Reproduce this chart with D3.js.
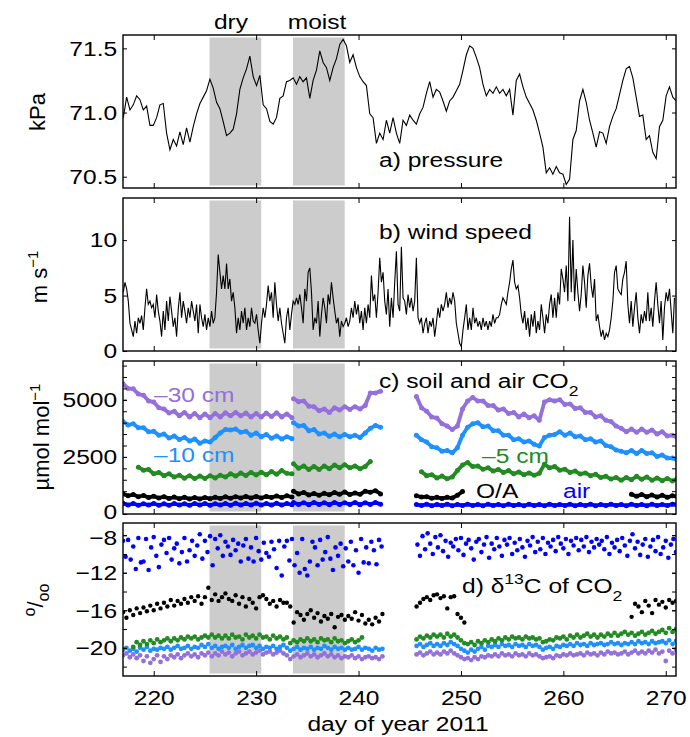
<!DOCTYPE html>
<html><head><meta charset="utf-8">
<script src="https://cdn.jsdelivr.net/npm/d3@7"></script>
<style>
body{margin:0;background:#fff}
text{font-family:"Liberation Sans",Arial,Helvetica,sans-serif}
</style>
</head><body>
<svg id="chart" width="690" height="737"></svg>
<script>
// ---------------- DATA ----------------
const dayDomain = [217, 271];
const dayTicks = [220, 230, 240, 250, 260, 270];
const dryPeriod = [225.45, 230.5];
const moistPeriod = [233.6, 238.65];

// a) pressure (kPa), regular sampling
const pressureStart = 217.03, pressureStep = 0.3252;
const pressure = [70.96,71.12,71.02,71.06,71.13,71.10,71.02,71.05,70.90,70.90,70.96,71.06,71.07,70.84,70.71,70.79,70.74,70.85,70.75,70.88,
70.77,70.89,70.99,71.07,71.12,71.17,71.26,71.19,71.08,71.03,70.93,70.82,70.84,70.87,70.99,71.18,71.27,71.34,71.44,71.28,
71.21,71.29,71.06,71.03,70.93,70.91,70.96,71.11,71.13,71.24,71.25,71.27,71.22,71.28,71.24,71.27,71.11,71.25,71.33,71.48,
71.39,71.35,71.25,71.35,71.42,71.53,71.57,71.52,71.39,
71.45,71.35,71.28,71.24,71.21,70.99,70.96,70.76,70.84,70.79,70.94,70.84,70.96,70.84,70.76,70.94,70.90,70.98,70.94,70.91,
70.99,71.04,71.15,71.24,71.12,71.18,71.16,71.09,71.01,71.09,71.12,71.17,71.22,71.33,71.45,71.52,71.50,71.43,71.35,71.22,
71.13,71.18,71.15,71.20,71.15,71.18,71.13,71.18,70.98,71.25,71.30,71.20,71.12,71.07,71.02,70.94,70.84,70.73,70.53,70.57,
70.52,70.58,70.53,70.52,70.44,70.48,70.79,70.86,71.09,71.18,71.08,70.94,70.84,70.73,70.85,70.84,70.76,70.89,70.97,71.03,
71.14,71.25,71.34,71.36,71.27,71.12,70.97,70.98,70.79,70.82,70.69,70.64,70.89,70.94,71.13,71.20,71.12,71.09];
const pressureTicks = [70.5, 71.0, 71.5];

// b) wind speed (m/s)
const windStart = 217.03, windStep = 0.1626;
const wind = [5.3,6.2,5.6,4.5,2.5,1.9,1.3,2.7,1.6,3.0, 2.5,3.2,1.9,3.9,5.6,4.2,4.5,3.9,4.2,3.0,
5.1,3.6,2.7,1.3,3.6,1.9,4.5,2.7,4.9,3.6, 2.2,3.0,1.3,3.8,5.3,3.0,4.5,3.6,2.5,3.9,
3.0,4.5,3.6,2.7,4.2,1.6,4.2,3.0,2.2,3.3, 1.9,3.0,2.2,3.6,2.5,3.0,5.3,8.7,7.1,5.6,
6.8,5.6,7.9,5.6,6.5,4.5,5.3,3.9,1.6,3.0, 1.9,3.6,2.5,3.9,1.9,3.0,2.2,3.9,2.7,2.5,
3.3,1.9,0.7,2.5,3.9,3.0,4.2,5.9,4.5,5.3, 3.0,6.2,4.2,2.7,3.9,2.5,1.6,0.7,3.0,3.9,
1.9,3.3,4.5,4.2,4.8,4.2,5.1,3.9,2.5,5.6, 4.5,7.1,7.5,5.3,1.9,3.0,2.5,4.5,1.3,3.3,
4.8,3.9,2.5,5.1,4.2,6.2,4.8,3.6,2.5,3.0, 1.3,2.7,2.2,2.5,3.0,2.2,2.7,
3.9,3.0,4.5,3.3,4.2,2.5,3.6,1.9,3.9,2.5, 4.2,3.0,6.8,4.5,5.1,3.0,5.3,8.4,6.2,7.1,
4.5,3.3,5.6,2.2,4.8,3.0,6.2,9.0,4.2,3.6, 9.4,4.8,4.5,3.3,5.1,3.9,4.8,3.6,4.5,8.4,
3.0,2.5,3.0,1.6,2.5,3.0,1.6,2.7,2.2,3.0, 1.3,2.5,3.9,3.0,4.2,3.6,4.2,5.3,3.9,4.8,
4.2,5.3,4.5,2.5,1.6,0.7,0.4,1.9,3.0,4.2, 1.9,3.0,1.9,3.9,2.5,3.0,2.2,2.7,1.9,3.0,
2.2,2.7,1.9,2.7,2.2,3.3,2.5,3.0,3.0,3.3, 4.2,4.8,4.5,4.2,5.3,6.2,7.4,8.2,6.2,5.6,
5.9,4.8,3.3,2.5,3.6,1.9,3.0,1.3,3.3,2.2, 3.6,1.6,2.7,1.9,4.2,3.0,1.6,3.3,2.5,4.2,
5.1,3.0,4.8,3.0,5.3,4.2,7.4,6.5,5.3,7.7, 4.5,12.1,5.3,10.0,4.5,7.4,5.3,3.6,5.1,7.7,
6.2,3.9,6.8,7.9,5.9,4.8,6.5,2.7,3.3,2.2, 1.3,1.9,1.0,1.6,1.3,1.9,3.0,4.5,7.1,7.7,
5.6,5.3,5.1,6.5,7.1,8.1,4.2,2.5,4.5,2.2, 3.9,5.3,3.0,1.6,3.3,2.5,3.6,2.7,5.3,2.7,
3.9,2.2,4.5,6.2,4.2,2.5,4.5,1.0,3.9,5.3, 4.5,5.6,3.6,1.6,4.8];
const windTicks = [0, 5, 10];

// c) soil and air CO2 (umol/mol), three record segments, half-day sampling
const co2SegStart = [217.0, 233.65, 245.65];
const co2Step = 0.5;
const co2Minus30 = [
 [5700,5500,5480,5250,5200,4950,4900,4650,4600,4420,4500,4300,4450,4250,4400,4220,4380,4220,4400,4250,4430,4300,4450,4300,4420,4250,4400,4250,4420,4270,4430,4250,4380,4220],
 [5050,4920,4950,4720,4700,4520,4600,4450,4650,4550,4700,4580,4700,4600,4750,5300,5300,5380],
 [5150,4650,4500,4250,4200,3950,3850,3700,3850,4600,4950,5100,4950,4950,4750,4750,4550,4600,4400,4450,4250,4380,4220,4300,4100,4900,5000,4950,5000,4800,4820,4620,4650,4450,4450,4250,4300,4100,4050,3850,3750,3600,3720,3580,3720,3580,3680,3500,3600,3420,3450,3330]];
const co2Minus10 = [
 [4050,3900,3950,3780,3780,3600,3620,3450,3500,3330,3420,3260,3350,3200,3280,3100,3200,3150,3350,3550,3700,3680,3720,3580,3620,3450,3550,3380,3480,3320,3420,3280,3380,3300],
 [4000,3850,3880,3650,3700,3500,3550,3400,3500,3380,3480,3380,3450,3350,3550,3750,3880,3800],
 [3450,3250,3150,2950,2900,2750,2780,2680,2900,3450,3800,3950,4000,3820,3850,3650,3650,3450,3450,3250,3300,3150,3200,3050,2980,3350,3450,3480,3600,3450,3550,3380,3420,3250,3300,3150,3200,3000,2950,2800,2750,2680,2780,2650,2780,2650,2680,2520,2580,2450,2450,2350]];
const co2Minus5 = [
 [null,null,null,2050,1920,1950,1760,1820,1680,1760,1620,1700,1570,1680,1550,1660,1560,1680,1580,1700,1620,1760,1660,1790,1690,1820,1710,1830,1720,1860,1740,1900,1780,1760],
 [2200,2000,2100,1950,2080,1950,2100,1980,2150,2020,2160,2020,2100,1980,2080,2300,null,null],
 [null,1850,1680,1720,1580,1660,1540,1620,1900,2150,2250,2080,2100,1960,2020,1880,1950,1820,1900,1760,1840,1720,1800,1700,1780,2180,2020,2080,1920,1960,1820,1880,1750,1800,1680,1740,1600,1650,1530,1600,1480,1600,1500,1650,1520,1620,1480,1580,1460,1560,1450,1560]];
const co2OA = [
 [880,800,850,760,810,720,780,700,760,680,740,670,730,660,720,660,720,670,730,680,750,690,760,700,770,700,770,700,770,720,790,720,800,740],
 [1000,880,940,830,900,820,910,840,940,860,960,850,920,860,1000,950,1020,880],
 [800,740,760,690,730,680,730,700,820,980,
  null,null,null,null,null,null,null,null,null,null,null,null,null,null,null,null,
  null,null,null,null,null,null,null,null,null,null,null,null,null,null,null,null,
  860,780,850,760,830,740,820,730,800,750]];
const co2Air = [
 [470,390,460,380,450,390,460,380,450,380,460,390,450,380,460,390,460,380,450,390,460,380,470,390,460,390,470,390,460,390,470,390,460,400],
 [500,420,490,410,500,420,490,410,500,420,490,420,500,410,490,420,500,430],
 [420,370,430,360,420,370,430,360,420,370,430,370,420,360,430,370,420,360,430,370,420,360,430,370,420,360,430,370,420,370,430,360,420,370,430,360,420,370,430,370,420,360,430,370,420,360,430,370,420,370,430,380]];
const co2Ticks = [0, 2500, 5000];
const co2Minor = [0,500,1000,1500,2000,2500,3000,3500,4000,4500,5000,5500,6000,6500];

// d) delta13C of CO2 (per mil), two record segments
const d13SegStart = [217.0, 245.667];
const d13Step = 1/3;
const d13OA = [
 [-16.2,-16.8,-16.0,-16.5,-15.8,-16.3, -15.7,-16.1,-15.5,-16.0,-15.3,-15.8, -15.2,-15.6,-14.9,-15.5,-15.0,-15.3,
  -14.8,-15.2,-14.6,-15.0,-14.5,-15.3, -14.6,-13.6,-14.9,-14.3,-15.0,-14.6, -14.2,-14.8,-15.0,-14.4,-15.3,-14.6,
  -15.6,-14.8,-15.2,-15.8,-14.6,-14.4, -14.8,-15.3,-15.0,-15.6,-14.9,-15.2, -15.2,-15.6,-17.3,-16.2,-16.5,-17.0,
  -16.4,-16.0,-16.8,-16.3,-17.2,-16.6, -16.9,-16.4,-17.8,-16.7,-16.5,-17.0, -16.6,-16.9,-16.2,-17.1,-16.5,-17.4,
  -17.0,-17.5,-16.8,-17.2,-16.4],
 [-15.6,-15.2,-14.8,-14.6,-14.9,-14.4,-14.3,-14.7,-14.5,-15.8,-14.6,-14.5,-16.4,-16.8,-17.3,
  null,null,null,null,null,null,null,null,null,null,null,null,
  null,null,null,null,null,null,null,null,null,null,null,null,
  null,null,null,null,null,null,null,null,null,null,null,null,
  null,null,null,null,null,null,null,null,null,null,null,null,
  -16.7,-15.3,-15.6,-16.2,-15.0,-15.5,-16.3,-14.9,-15.4,-15.1,-15.7,-14.9,-15.2,-15.0]];
const d13Minus5 = [
 [null,null,null,-19.9,-19.4,-19.7, -19.3,-19.6,-19.2,-19.5,-19.1,-19.4, -19.2,-19.0,-19.3,-19.0,-19.2,-18.9,
  -19.1,-18.8,-19.0,-18.8,-19.1,-18.9, -18.7,-18.9,-18.6,-18.9,-18.7,-19.0, -18.7,-19.0,-18.6,-18.9,-18.8,-19.1,
  -18.6,-18.9,-18.7,-19.0,-18.6,-18.9, -18.8,-19.1,-18.7,-19.0,-18.8,-19.1, -18.9,-19.5,-19.2,-19.4,-19.1,-19.3,
  -19.0,-19.3,-19.1,-19.4,-19.0,-19.2, -19.1,-19.4,-19.0,-19.3,-19.2,-19.5, -19.3,-19.1,-19.4,-19.2,-18.9,null,
  null,null,null,null,null],
 [-19.1,-18.8,-19.0,-18.7,-18.9,-18.6, -18.8,-18.6,-18.9,-18.5,-18.8,-18.6, -18.9,-19.2,-19.5,-19.6,-19.4,-19.7,
  -19.3,-19.5,-19.2,-19.4,-19.1,-19.3, -19.0,-19.2,-18.9,-19.1,-18.8,-19.0, -18.9,-19.1,-18.8,-19.0,-18.9,-19.1,
  -19.0,-19.4,-19.3,-19.1,-19.2,-18.9, -19.0,-18.8,-19.1,-18.7,-18.9,-18.6, -18.9,-18.7,-18.5,-18.8,-18.6,-18.9,
  -18.6,-18.8,-18.5,-18.7,-18.4,-18.7, -18.5,-18.3,-18.6,-18.4,-18.7,-18.5, -18.3,-18.6,-18.4,-18.2,-18.5,-18.3,
  -18.1,-18.4,-17.9,-18.3,-18.0]];
const d13Minus10 = [
 [-20.2,-20.0,-20.3,-20.1,-20.4,-20.0, -20.2,-19.9,-20.3,-20.1,-20.2,-20.0, -20.1,-19.9,-20.2,-20.0,-19.8,-20.1,
  -20.0,-19.8,-20.1,-19.9,-20.0,-19.7, -19.9,-19.6,-20.0,-19.8,-20.1,-19.9, -19.8,-20.0,-19.7,-20.1,-19.9,-19.7,
  -20.0,-19.8,-19.7,-20.0,-19.8,-20.1, -19.9,-20.0,-19.8,-20.1,-19.9,-19.7, -20.0,-20.3,-20.1,-19.9,-20.2,-20.0,
  -20.1,-19.9,-20.2,-20.0,-20.1,-19.8, -20.0,-20.2,-19.9,-20.1,-20.0,-20.2, -20.0,-20.2,-20.1,-19.9,-20.2,-20.0,
  -20.1,-20.3,-20.0,-20.2,-20.1],
 [-19.8,-19.6,-19.9,-19.7,-19.5,-19.8, -19.6,-19.8,-19.5,-19.7,-19.4,-19.6, -19.8,-20.1,-20.3,-20.5,-20.2,-20.4,
  -20.1,-19.9,-20.2,-19.8,-19.9,-19.7, -19.9,-19.6,-19.8,-19.7,-19.9,-19.6, -19.8,-19.7,-19.9,-19.6,-19.8,-19.7,
  -19.9,-20.2,-20.0,-19.9,-20.1,-19.8, -19.9,-19.7,-19.8,-19.6,-19.8,-19.5, -19.7,-19.6,-19.8,-19.5,-19.7,-19.6,
  -19.5,-19.7,-19.6,-19.4,-19.6,-19.5, -19.7,-19.5,-19.6,-19.4,-19.6,-19.3, -19.5,-19.4,-19.6,-19.3,-19.5,-19.4,
  -19.3,-19.5,-19.2,-19.6,-19.3]];
const d13Minus30 = [
 [-20.8,-20.6,-21.0,-20.7,-21.1,-20.8, -21.4,-20.9,-21.6,-21.2,-20.8,-21.5, -20.9,-21.2,-20.8,-21.0,-20.7,-21.1,
  -20.8,-20.6,-20.9,-20.7,-21.0,-20.6, -20.8,-20.5,-20.9,-20.6,-20.8,-20.4, -20.7,-20.5,-20.9,-20.6,-20.4,-20.8,
  -20.6,-20.4,-20.7,-20.5,-20.3,-20.7, -20.5,-20.4,-20.7,-20.5,-20.3,-20.6, -20.8,-21.2,-20.9,-20.7,-21.0,-20.8,
  -20.6,-20.9,-20.7,-21.0,-20.8,-20.6, -20.9,-20.7,-21.0,-20.8,-21.1,-20.9, -21.0,-20.8,-21.1,-20.9,-21.2,-21.0,
  -20.9,-21.1,-21.0,-21.2,-20.9],
 [-20.7,-20.5,-20.8,-20.6,-20.4,-20.7, -20.5,-20.7,-20.4,-20.6,-20.3,-20.6, -20.8,-21.0,-21.2,-21.1,-21.3,-21.0,
  -21.2,-20.9,-21.0,-20.8,-20.9,-20.7, -20.9,-20.6,-20.8,-20.7,-20.9,-20.6, -20.8,-20.7,-20.9,-20.6,-20.8,-20.7,
  -20.9,-21.1,-21.0,-20.9,-21.1,-20.8, -20.9,-20.7,-20.8,-20.6,-20.8,-20.7, -20.6,-20.8,-20.5,-20.7,-20.6,-20.8,
  -20.5,-20.7,-20.4,-20.6,-20.5,-20.7, -20.6,-20.4,-20.7,-20.5,-20.3,-20.6, -20.4,-20.6,-20.3,-20.5,-20.2,-20.6,
  -20.4,-21.4,-20.3,-20.6,-20.2]];
// air samples, quarter-day sampling
const airSegStart = [217.0, 245.75];
const airStep = 0.25;
const d13Air = [
 [-8.6,-10.3,-8.5,-10.6,-9.2,-11.6,-8.3,-10.9, -10.8,-8.4,-11.7,-9.3,-8.2,-10.2,-11.4,-9.0,
  -8.5,-9.9,-8.3,-10.6,-9.4,-8.9,-11.0,-9.8, -8.3,-10.8,-9.6,-8.6,-10.2,-9.1,-7.9,-10.5,
  -8.6,-9.8,-8.1,-11.2,-8.4,-9.4,-8.0,-10.2, -8.7,-9.2,-10.1,-8.5,-9.6,-8.9,-10.8,-9.1,
  -8.4,-10.5,-9.3,-10.8,-8.3,-9.7,-10.6,-8.8, -9.9,-10.3,-8.7,-9.5,-11.5,-8.6,-12.3,-9.2,
  -8.6,-10.7,-8.4,-11.2,-9.9,-12.0,-8.4,-11.6, -12.3,-10.8,-8.7,-9.3,-11.2,-8.5,-10.6,-9.8,
  -8.2,-10.5,-11.7,-9.3,-10.2,-8.9,-11.3,-9.4, -10.8,-8.7,-11.2,-9.6,-12.0,-8.4,-10.9,-9.3,
  -11.0,-8.7,-9.6,-11.1,-8.5,-9.2],
 [-9.0,-10.2,-8.1,-9.5,-7.8,-8.9,-10.0,-8.2, -9.3,-8.0,-9.7,-8.6,-10.3,-8.8,-9.2,-8.4,
  -9.6,-8.3,-10.1,-8.9,-8.5,-9.4,-10.6,-8.7, -8.4,-9.8,-9.0,-8.2,-10.4,-8.9,-9.5,-8.3,
  -9.2,-10.2,-8.5,-9.0,-8.3,-10.0,-8.8,-9.6, -8.4,-9.3,-10.3,-8.6,-9.1,-8.2,-9.8,-8.7,
  -9.5,-8.3,-10.0,-8.8,-9.2,-8.5,-9.7,-8.2, -8.9,-9.4,-8.4,-10.0,-8.6,-9.1,-8.3,-9.6,
  -8.5,-9.2,-8.2,-9.8,-8.7,-9.3,-8.4,-9.0, -8.6,-9.5,-8.2,-10.0,-8.8,-9.3,-8.5,-9.7,
  -8.3,-9.1,-10.2,-8.6,-7.9,-9.4,-8.7,-10.1, -9.0,-8.4,-10.3,-9.2,-8.5,-9.7,-8.2,-10.0,
  -9.3,-8.6,-10.4,-9.0,-8.4,-9.8]];
const d13Ticks = [-20, -16, -12, -8];
const d13Minor = [-22, -20, -18, -16, -14, -12, -10, -8];

// ---------------- LAYOUT ----------------
const svg = d3.select("#chart");
const L = 123, R = 676;
const tops = [35, 198, 361, 523], PH = 153;
const SX = 1.17;          // horizontal stretch of the lettering
const FS = 21;
const C = {purple:"#9370db", lblue:"#1e90ff", green:"#228b22", black:"#000000", blue:"#0000ff", shade:"#cccccc"};
const x = d3.scaleLinear().domain(dayDomain).range([L, R]);
const defs = svg.append("defs");

function makePanel(i, domain) {
  const top = tops[i], bot = top + PH;
  const y = d3.scaleLinear().domain(domain).range([bot, top]);
  const g = svg.append("g");
  defs.append("clipPath").attr("id", "clip" + i).append("rect")
    .attr("x", L).attr("y", top).attr("width", R - L).attr("height", PH);
  [dryPeriod, moistPeriod].forEach(p => g.append("rect")
    .attr("x", x(p[0])).attr("width", x(p[1]) - x(p[0]))
    .attr("y", top + 2.5).attr("height", PH - 5).attr("fill", C.shade));
  const data = g.append("g").attr("clip-path", `url(#clip${i})`);
  return {g, y, data, top, bot};
}
function styleAxis(sel) {
  sel.select(".domain").remove();
  sel.selectAll("line").attr("stroke", "#000").attr("stroke-width", 1);
  sel.selectAll("text").attr("fill", "#000").style("font-size", FS + "px")
    .style("font-family", '"Liberation Sans",Arial,Helvetica,sans-serif');
}
function axes(P, ticks, minor, fmt, xlabels) {
  if (minor) {
    [[d3.axisLeft, L], [d3.axisRight, R]].forEach(([f, px]) => {
      P.g.append("g").attr("transform", `translate(${px},0)`)
        .call(f(P.y).tickValues(minor).tickSize(-4).tickFormat(""))
        .call(styleAxis);
    });
  }
  const gl = P.g.append("g").attr("transform", `translate(${L},0)`)
    .call(d3.axisLeft(P.y).tickValues(ticks).tickSize(-4).tickPadding(5).tickFormat(fmt))
    .call(styleAxis);
  gl.selectAll("text").attr("transform", `scale(${SX},1)`);
  P.g.append("g").attr("transform", `translate(${R},0)`)
    .call(d3.axisRight(P.y).tickValues(ticks).tickSize(-4).tickFormat("")).call(styleAxis);
  P.g.append("g").attr("transform", `translate(0,${P.top})`)
    .call(d3.axisTop(x).tickValues(dayTicks).tickSize(-5).tickFormat("")).call(styleAxis);
  const gb = P.g.append("g").attr("transform", `translate(0,${P.bot})`)
    .call(d3.axisBottom(x).tickValues(dayTicks).tickSize(-5).tickPadding(14)
      .tickFormat(xlabels ? d3.format("d") : ""))
    .call(styleAxis);
  gb.selectAll("text").attr("transform", `scale(${SX},1)`);
  P.g.append("rect").attr("x", L).attr("y", P.top).attr("width", R - L).attr("height", PH)
    .attr("fill", "none").attr("stroke", "#000").attr("stroke-width", 1.4);
  return gl;
}
function txt(px, py, color, anchor) {
  return svg.append("text").attr("transform", `translate(${px},${py}) scale(${SX},1)`)
    .attr("text-anchor", anchor || "start").attr("fill", color || "#000").style("font-size", FS + "px");
}
function ylab(px, py) {
  return svg.append("text").attr("transform", `translate(${px},${py}) rotate(-90)`)
    .attr("text-anchor", "middle").attr("fill", "#000").style("font-size", "22px");
}

// ---------------- PANEL A ----------------
const Pa = makePanel(0, [70.412, 71.604]);
Pa.data.append("path")
  .datum(pressure.map((v, i) => [pressureStart + i * pressureStep, v]))
  .attr("d", d3.line().x(d => x(d[0])).y(d => Pa.y(d[1])))
  .attr("fill", "none").attr("stroke", "#000").attr("stroke-width", 1.1);
axes(Pa, pressureTicks, null, d3.format(".1f"), false);

// ---------------- PANEL B ----------------
const Pb = makePanel(1, [0, 13.8]);
Pb.data.append("path")
  .datum(wind.map((v, i) => [windStart + i * windStep, v]))
  .attr("d", d3.line().x(d => x(d[0])).y(d => Pb.y(d[1])))
  .attr("fill", "none").attr("stroke", "#000").attr("stroke-width", 1.1);
axes(Pb, windTicks, null, d3.format("d"), false);

// ---------------- PANEL C ----------------
const Pc = makePanel(2, [0, 6700]);
[[co2Minus30, C.purple], [co2Minus10, C.lblue], [co2Minus5, C.green], [co2OA, C.black], [co2Air, C.blue]]
.forEach(([series, col]) => {
  series.forEach((seg, k) => {
    const pts = seg.map((v, i) => [co2SegStart[k] + i * co2Step, v]);
    Pc.data.append("path").datum(pts)
      .attr("d", d3.line().defined(d => d[1] != null).x(d => x(d[0])).y(d => Pc.y(d[1])))
      .attr("fill", "none").attr("stroke", col).attr("stroke-width", 3.8)
      .attr("stroke-linejoin", "round").attr("stroke-linecap", "round");
    Pc.data.selectAll(null).data(pts.filter(d => d[1] != null)).join("circle")
      .attr("cx", d => x(d[0])).attr("cy", d => Pc.y(d[1])).attr("r", 2.5).attr("fill", col);
  });
});
const glc = axes(Pc, co2Ticks, co2Minor, d3.format("d"), false);
glc.selectAll("text").filter(d => d === 0).attr("dy", "0.2em");

// ---------------- PANEL D ----------------
const Pd = makePanel(3, [-23, -6.7]);
function dots(series, starts, step, col, r) {
  series.forEach((seg, k) => {
    const pts = seg.map((v, i) => [starts[k] + i * step, v]).filter(d => d[1] != null);
    Pd.data.selectAll(null).data(pts).join("circle")
      .attr("cx", d => x(d[0])).attr("cy", d => Pd.y(d[1])).attr("r", r).attr("fill", col);
  });
}
dots(d13Minus30, d13SegStart, d13Step, C.purple, 2.4);
dots(d13Minus10, d13SegStart, d13Step, C.lblue, 2.4);
dots(d13Minus5, d13SegStart, d13Step, C.green, 2.4);
dots(d13OA, d13SegStart, d13Step, C.black, 2.2);
dots(d13Air, airSegStart, airStep, C.blue, 2.3);
const gld = axes(Pd, d13Ticks, d13Minor, d3.format("d"), true);
gld.selectAll("text").filter(d => d === -8).attr("dy", "0.42em");

// ---------------- TEXT ----------------
txt(231, 29, "#000", "middle").text("dry");
txt(317, 29, "#000", "middle").text("moist");
txt(379, 167).text("a) pressure");
txt(379, 239).text("b) wind speed");
const tc = txt(379, 388);
tc.append("tspan").text("c) soil and air CO");
tc.append("tspan").attr("dy", 8).style("font-size", "15px").text("2");
txt(154, 402, C.purple).text("\u201330 cm");
txt(154, 462, C.lblue).text("\u201310 cm");
txt(482, 463, C.green).text("\u20135 cm");
txt(476, 498, C.black).text("O/A");
txt(563, 498, C.blue).text("air");
const td = txt(462, 593);
td.append("tspan").text("d) \u03b4");
td.append("tspan").attr("dy", -9).style("font-size", "15px").text("13");
td.append("tspan").attr("dy", 9).text("C of CO");
td.append("tspan").attr("dy", 8).style("font-size", "15px").text("2");
txt(398, 731, "#000", "middle").text("day of year 2011");

ylab(45, 112).text("kPa");
const yb = ylab(47, 277);
yb.append("tspan").text("m s");
yb.append("tspan").attr("dy", -9).style("font-size", "15px").text("\u22121");
const yc = ylab(49, 437);
yc.append("tspan").text("\u00b5mol mol");
yc.append("tspan").attr("dy", -9).style("font-size", "15px").text("\u22121");
const yd = ylab(43, 600);
yd.append("tspan").attr("dy", -8).style("font-size", "16px").text("o");
yd.append("tspan").attr("dy", 8).text("/");
yd.append("tspan").attr("dy", 6).style("font-size", "16px").text("oo");
</script>
</body></html>
